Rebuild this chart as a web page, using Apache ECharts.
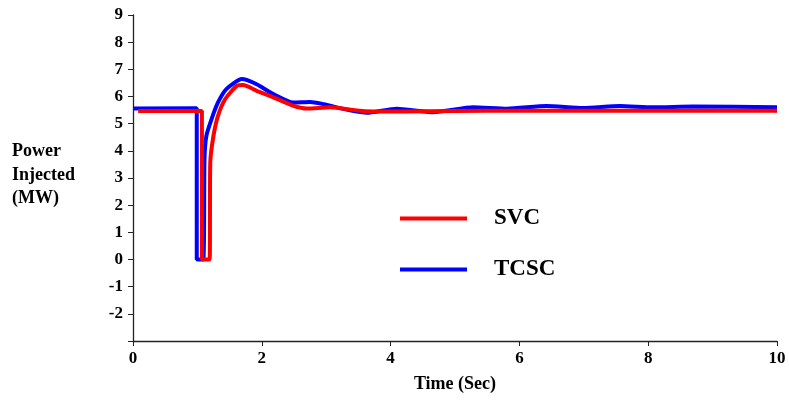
<!DOCTYPE html>
<html>
<head>
<meta charset="utf-8">
<script src="https://cdn.jsdelivr.net/npm/echarts@6/dist/echarts.min.js"></script>
<style>
  html, body { margin: 0; padding: 0; background: #fff; }
  #chart { width: 789px; height: 401px; }
</style>
</head>
<body>
<div id="chart"></div>
<script>
  // values
  const tcscTime  = [0, 0.99, 0.99, 1.09, 1.11, 1.14, 1.22, 1.32, 1.45, 1.69, 1.92, 2.18, 2.49, 2.75, 2.96, 3.06, 3.35, 3.63, 4.09, 4.66, 5.28, 5.81, 6.42, 6.99, 7.56, 8.07, 8.7, 10]
  const tcscPower = [5.56, 5.57, 0, 0, 3.7, 4.56, 5.17, 5.78, 6.27, 6.64, 6.45, 6.09, 5.78, 5.8, 5.72, 5.66, 5.5, 5.4, 5.55, 5.42, 5.6, 5.55, 5.65, 5.58, 5.65, 5.6, 5.63, 5.6]
  const svcTime   = [0.08, 1.07, 1.07, 1.19, 1.2, 1.25, 1.32, 1.43, 1.61, 1.71, 1.92, 2.18, 2.49, 2.7, 3.06, 3.6, 4.2, 5.0, 6.0, 10]
  const svcPower  = [5.47, 5.47, 0, 0, 3.58, 4.56, 5.29, 5.9, 6.39, 6.42, 6.21, 5.97, 5.66, 5.56, 5.6, 5.46, 5.45, 5.47, 5.48, 5.48]

  const pairs = (t, v) => t.map((x, i) => [x, v[i]])

  let myChart = echarts.init(document.getElementById('chart'))
  let option = {
    animation: false,
    grid: {
      left: 133,
      right: 12,
      top: 15,
      bottom: 60
    },
    legend: {
      data: ['SVC', 'TCSC'],
      orient: 'vertical',
      left: 395,
      top: 202,
      icon: 'rect',
      itemWidth: 67,
      itemHeight: 4,
      itemGap: 28,
      textStyle: {
        color: '#000',
        fontFamily: 'Liberation Serif',
        fontWeight: 'bold',
        fontSize: 23,
        padding: [0, 0, 0, 22]
      }
    },
    graphic: [{
      type: 'text',
      left: 12,
      top: 140,
      style: {
        text: 'Power\nInjected\n(MW)',
        fill: '#000',
        font: 'bold 18px "Liberation Serif"',
        lineHeight: 23.5
      }
    }],
    xAxis: {
      type: 'value',
      min: 0,
      max: 10,
      interval: 2,
      name: 'Time (Sec)',
      nameLocation: 'middle',
      nameGap: 34,
      nameTextStyle: {
        color: '#000',
        fontFamily: 'Liberation Serif',
        fontWeight: 'bold',
        fontSize: 18
      },
      splitLine: { show: false },
      axisLine: { onZero: false, lineStyle: { color: '#222', width: 1.3 } },
      axisTick: { length: 5, lineStyle: { color: '#222' } },
      axisLabel: {
        margin: 9,
        color: '#000',
        fontFamily: 'Liberation Serif',
        fontWeight: 'bold',
        fontSize: 17
      }
    },
    yAxis: {
      type: 'value',
      min: -3,
      max: 9,
      interval: 1,
      splitLine: { show: false },
      axisLine: { show: true, lineStyle: { color: '#222', width: 1.3 } },
      axisTick: { show: true, length: 5, lineStyle: { color: '#222' } },
      axisLabel: {
        margin: 10,
        color: '#000',
        fontFamily: 'Liberation Serif',
        fontWeight: 'bold',
        fontSize: 17,
        formatter: function (v) {
          return v === -3 ? '' : v
        }
      }
    },
    series: [
      {
        name: 'TCSC',
        type: 'line',
        symbol: 'none',
        color: '#0000ff',
        lineStyle: { width: 4 },
        smooth: 0.2,
        data: pairs(tcscTime, tcscPower)
      },
      {
        name: 'SVC',
        type: 'line',
        symbol: 'none',
        color: '#ff0000',
        lineStyle: { width: 4 },
        smooth: 0.2,
        data: pairs(svcTime, svcPower)
      }
    ]
  }
  myChart.setOption(option)
</script>
</body>
</html>
